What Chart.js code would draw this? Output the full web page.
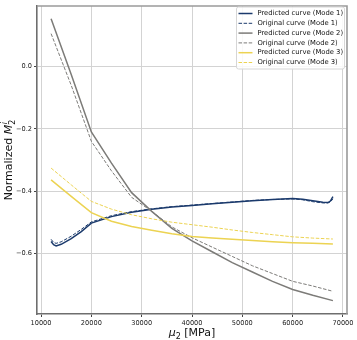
<!DOCTYPE html>
<html>
<head>
<meta charset="utf-8">
<script src="https://cdn.jsdelivr.net/npm/chart.js@4/dist/chart.umd.min.js"></script>
<style>
  html, body { margin: 0; padding: 0; background: #fff; }
  #wrap { width: 357px; height: 340px; }
</style>
</head>
<body>
<div id="wrap"><canvas id="modeChart" width="357" height="340"></canvas></div>
<script>
/* ===== DATA ===== */
const xMode1 = [12000, 12500, 13000, 14000, 16000, 18000, 20000, 24000, 28000, 32000, 36000, 40000, 44000, 48000, 52000, 56000, 60000, 62000, 64000, 66000, 67000, 67500, 68000];
const predMode1 = [-0.562, -0.572, -0.576, -0.571, -0.553, -0.530, -0.503, -0.482, -0.468, -0.458, -0.451, -0.446, -0.441, -0.436, -0.431, -0.427, -0.424, -0.426, -0.431, -0.436, -0.437, -0.432, -0.418];
const origMode1 = [-0.555, -0.565, -0.568, -0.563, -0.545, -0.523, -0.499, -0.479, -0.466, -0.457, -0.450, -0.445, -0.440, -0.435, -0.430, -0.427, -0.425, -0.428, -0.434, -0.438, -0.438, -0.435, -0.425];

const xModes = [12000, 16000, 20000, 24000, 28000, 32000, 36000, 40000, 44000, 48000, 52000, 56000, 60000, 64000, 68000];
const predMode2 = [0.154, -0.025, -0.210, -0.310, -0.405, -0.465, -0.520, -0.560, -0.595, -0.630, -0.660, -0.690, -0.716, -0.735, -0.752];
const origMode2 = [0.106, -0.060, -0.240, -0.335, -0.420, -0.465, -0.515, -0.550, -0.580, -0.610, -0.640, -0.665, -0.690, -0.705, -0.722];
const predMode3 = [-0.364, -0.417, -0.469, -0.497, -0.514, -0.526, -0.537, -0.546, -0.551, -0.555, -0.559, -0.563, -0.566, -0.568, -0.570];
const origMode3 = [-0.326, -0.380, -0.433, -0.458, -0.476, -0.489, -0.500, -0.508, -0.516, -0.525, -0.533, -0.540, -0.547, -0.551, -0.554];

const seriesLabels = [
  "Predicted curve (Mode 1)", "Original curve (Mode 1)",
  "Predicted curve (Mode 2)", "Original curve (Mode 2)",
  "Predicted curve (Mode 3)", "Original curve (Mode 3)"
];
const xTickValues = [10000, 20000, 30000, 40000, 50000, 60000, 70000];
const yTickValues = [-0.6, -0.4, -0.2, 0.0];

/* ===== HELPERS ===== */
function toPoints(xs, ys) {
  return xs.map((x, i) => ({ x: x, y: ys[i] }));
}

const colors = {
  mode1: "#1b3a6c",
  mode2: "#7c7b78",
  mode3: "#ecd352"
};

function makeSet(idx, xs, ys, color, dashed) {
  return {
    label: seriesLabels[idx],
    data: toPoints(xs, ys),
    borderColor: color,
    backgroundColor: color,
    borderWidth: dashed ? 1 : 1.5,
    borderDash: dashed ? [3.5, 1.6] : [],
    pointRadius: 0,
    tension: 0,
    fill: false,
    order: 6 - idx
  };
}

/* ===== LABELS + LEGEND PLUGIN ===== */
const decorPlugin = {
  id: "decor",
  afterDraw(chart) {
    const ctx = chart.ctx;
    const a = chart.chartArea;
    ctx.save();
    ctx.fillStyle = "#111";
    ctx.textBaseline = "alphabetic";

    // x axis title: mu_2 [MPa]
    const big = "11px 'DejaVu Sans'";
    const bigIt = "italic 11px 'DejaVu Sans'";
    const small = "8px 'DejaVu Sans'";
    ctx.font = bigIt; const wMu = ctx.measureText("μ").width;
    ctx.font = small; const wSub = ctx.measureText("2").width;
    ctx.font = big; const wRest = ctx.measureText(" [MPa]").width;
    let x0 = (a.left + a.right) / 2 - (wMu + wSub + wRest) / 2;
    const by = 336;
    ctx.font = bigIt; ctx.fillText("μ", x0, by);
    ctx.font = small; ctx.fillText("2", x0 + wMu, by + 2.5);
    ctx.font = big; ctx.fillText(" [MPa]", x0 + wMu + wSub, by);

    // y axis title: Normalized M_2^i
    ctx.save();
    ctx.translate(12, (a.top + a.bottom) / 2);
    ctx.rotate(-Math.PI / 2);
    ctx.font = big; const wN = ctx.measureText("Normalized ").width;
    ctx.font = bigIt; const wM = ctx.measureText("M").width;
    ctx.font = small; const wS = ctx.measureText("2").width;
    let s = -(wN + wM + wS) / 2;
    ctx.font = big; ctx.fillText("Normalized ", s, 0);
    ctx.font = bigIt; ctx.fillText("M", s + wN, 0);
    ctx.font = "italic 8px 'DejaVu Sans'"; ctx.fillText("i", s + wN + wM + 0.5, -5);
    ctx.font = small; ctx.fillText("2", s + wN + wM, 2.5);
    ctx.restore();

    // legend box
    const bx = 236, byTop = 6.5, bw = 108, bh = 62;
    ctx.fillStyle = "rgba(255,255,255,0.85)";
    ctx.strokeStyle = "#d6d6d6";
    ctx.lineWidth = 1;
    ctx.beginPath();
    ctx.roundRect(bx + 0.5, byTop + 0.5, bw, bh, 2);
    ctx.fill();
    ctx.stroke();

    ctx.font = "6.8px 'DejaVu Sans'";
    ctx.textBaseline = "middle";
    chart.data.datasets.forEach((ds, i) => {
      const ry = 13.5 + i * 9.8;
      ctx.strokeStyle = ds.borderColor;
      ctx.lineWidth = ds.borderWidth;
      ctx.setLineDash(ds.borderDash);
      ctx.beginPath();
      ctx.moveTo(238.5, ry);
      ctx.lineTo(252.5, ry);
      ctx.stroke();
      ctx.setLineDash([]);
      ctx.fillStyle = "#111";
      ctx.fillText(ds.label, 257.5, ry);
    });
    ctx.restore();
  }
};

/* ===== CHART ===== */
function drawChart() {
  const ctx = document.getElementById("modeChart");

  new Chart(ctx, {
    type: "line",
    data: {
      datasets: [
        makeSet(0, xMode1, predMode1, colors.mode1, false),
        makeSet(1, xMode1, origMode1, colors.mode1, true),
        makeSet(2, xModes, predMode2, colors.mode2, false),
        makeSet(3, xModes, origMode2, colors.mode2, true),
        makeSet(4, xModes, predMode3, colors.mode3, false),
        makeSet(5, xModes, origMode3, colors.mode3, true)
      ]
    },
    options: {
      responsive: false,
      animation: false,
      layout: { padding: { left: 0, right: 10, top: 4, bottom: 0 } },
      plugins: {
        legend: { display: false },
        tooltip: { enabled: false }
      },
      scales: {
        x: {
          type: "linear",
          min: 9200,
          max: 70800,
          afterFit: (scale) => { scale.height = 26; },
          afterBuildTicks: (scale) => { scale.ticks = xTickValues.map(v => ({ value: v })); },
          grid: { color: "#d3d3d3", lineWidth: 1, tickLength: 3, tickColor: "#444" },
          border: { color: "#6e6e6e", width: 1.6 },
          ticks: {
            color: "#222",
            padding: 2,
            maxRotation: 0,
            font: { family: "DejaVu Sans", size: 6.6 },
            callback: (v) => String(v)
          }
        },
        y: {
          type: "linear",
          min: -0.795,
          max: 0.195,
          afterFit: (scale) => { scale.width = 37; },
          afterBuildTicks: (scale) => { scale.ticks = yTickValues.map(v => ({ value: v })); },
          grid: { color: "#d3d3d3", lineWidth: 1, tickLength: 3, tickColor: "#444" },
          border: { color: "#6e6e6e", width: 1.6 },
          ticks: {
            color: "#222",
            padding: 2,
            font: { family: "DejaVu Sans", size: 6.6 },
            callback: (v) => v.toFixed(1).replace("-", "\u2212")
          }
        }
      }
    },
    plugins: [decorPlugin, {
      id: "frame",
      afterDatasetsDraw(chart) {
        // top and right spines
        const c = chart.ctx, a = chart.chartArea;
        c.save();
        c.strokeStyle = "#9a9a9a";
        c.lineWidth = 1.6;
        c.beginPath();
        c.moveTo(a.left, a.top);
        c.lineTo(a.right, a.top);
        c.lineTo(a.right, a.bottom);
        c.stroke();
        c.restore();
      }
    }]
  });
}

drawChart();
</script>
</body>
</html>
